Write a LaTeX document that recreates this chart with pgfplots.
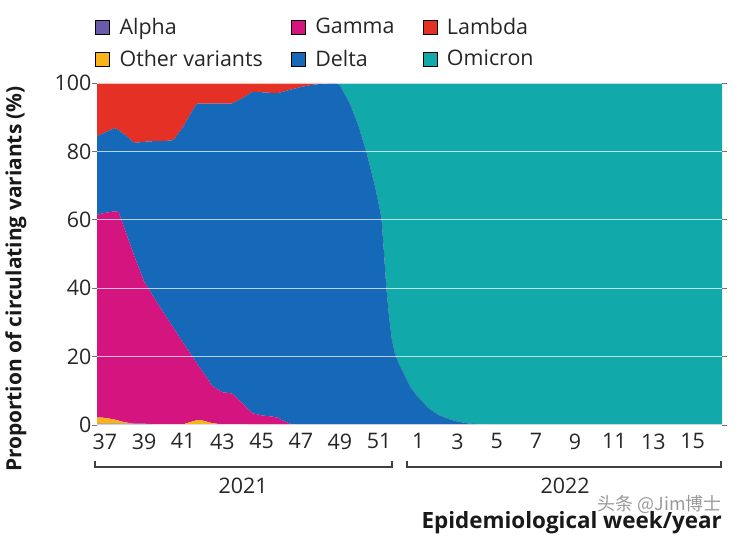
\documentclass[border=0pt]{standalone}
\usepackage{pgfplots}
\pgfplotsset{compat=1.18}
\usepackage{pgfplotstable}
\usepackage{fontspec}
\setmainfont{Open Sans}
\newfontfamily\cjk{Noto Sans CJK SC}
\definecolor{alphaC}{HTML}{6A5BAA}
\definecolor{gammaC}{HTML}{D5157F}
\definecolor{lambdaC}{HTML}{E53026}
\definecolor{otherC}{HTML}{F8B418}
\definecolor{deltaC}{HTML}{1569B8}
\definecolor{omicronC}{HTML}{12A9AA}
\pgfplotsset{sqlegend/.style={legend image code/.code={\fill[##1] (0bp,-7bp) rectangle (14bp,7bp); \path (22bp,0bp);}}}
\pgfplotstableread{
x     A    O    Gm    Dl    Lb    Om
-0.4  0.4  1.8  59.3  23.0  15.5  0
0     0.4  1.7  59.9  23.5  14.5  0
0.5   0.4  1.2  60.9  24.3  13.2  0
0.7   0.4  0.9  61.0  23.9  13.8  0
1     0.4  0.4  56.7  27.5  15.0  0
1.5   0.4  0    49.1  33.0  17.5  0
2     0.4  0    41.6  40.8  17.2  0
2.5   0.2  0    37.1  45.7  17.0  0
3     0.2  0    32.6  50.2  17.0  0
3.5   0.2  0    28.2  54.9  16.7  0
4     0.2  0    23.8  63.2  12.8  0
4.5   0.2  0.9  18.6  72.5  7.8   0
4.7   0.2  1.2  16.6  76.0  6.0   0
5     0.2  1.1  14.2  78.5  6.0   0
5.5   0.2  0.3  10.8  82.7  6.0   0
6     0.2  0    9.4   84.4  6.0   0
6.5   0.2  0    9.0   84.8  6.0   0
7     0.2  0    6.3   89.0  4.5   0
7.5   0    0    3.5   93.8  2.7   0
8     0    0    2.8   94.5  2.7   0
8.5   0    0    2.5   94.6  2.9   0
8.8   0    0    2.2   94.8  3.0   0
9     0    0    1.5   95.8  2.7   0
9.5   0    0    0.3   97.8  1.9   0
9.8   0    0    0     98.5  1.5   0
10    0    0    0     98.8  1.2   0
10.5  0    0    0     99.4  0.6   0
11    0    0    0     99.7  0.3   0
11.5  0    0    0     100   0     0
11.8  0    0    0     100   0     0
12    0    0    0     99.3  0     0.7
12.5  0    0    0     94.0  0     6.0
12.93 0    0    0     87.7  0     12.3
13.35 0    0    0     79.8  0     20.2
13.78 0    0    0     70.0  0     30.0
14    0    0    0     64.0  0     36.0
14.12 0    0    0     60.5  0     39.5
14.25 0    0    0     50.0  0     50.0
14.37 0    0    0     40.0  0     60.0
14.5  0    0    0     32.0  0     68.0
14.65 0    0    0     25.0  0     75.0
14.8  0    0    0     21.0  0     79.0
15    0    0    0     18.0  0     82.0
15.3  0    0    0     14.5  0     85.5
15.6  0    0    0     11.0  0     89.0
16    0    0    0     8.0   0     92.0
16.5  0    0    0     5.0   0     95.0
17    0    0    0     3.0   0     97.0
17.5  0    0    0     1.8   0     98.2
18    0    0    0     1.0   0     99.0
18.5  0    0    0     0.5   0     99.5
19    0    0    0     0.2   0     99.8
20    0    0    0     0     0     100
31.5  0    0    0     0     0     100
}\data
\begin{document}
\begin{tikzpicture}
\useasboundingbox (0,0) rectangle (750bp,537bp);
\begin{axis}[
  at={(97bp,112bp)}, anchor=south west,
  scale only axis, width=625bp, height=342bp,
  xmin=-0.4, xmax=31.5, ymin=0, ymax=100,
  stack plots=y,
  axis on top,
  axis line style={draw=none},
  xtick={0,2,...,30},
  xticklabels={37,39,41,43,45,47,49,51,1,3,5,7,9,11,13,15},
  x tick style={draw=none},
  ytick={0,20,...,100},
  ymajorgrids,
  grid style={white, opacity=0.7, line width=1.2bp},
  y tick style={black!55, line width=0.6bp},
  tick align=outside, major tick length=5bp,
  tick label style={font=\fontsize{21.5}{25}\selectfont, text=black!85},
  /pgf/number format/assume math mode=true,
  yticklabel style={xshift=3bp},
  xticklabel style={yshift=0bp},
  legend columns=3,
  legend cell align=left,
  legend entries={Alpha,Gamma,Lambda,Other variants,Delta,Omicron},
  legend style={at={(-0.008,1.202)}, anchor=north west, draw=none, fill=none,
    font=\fontsize{21.5}{25}\selectfont, text=black!85,
    /tikz/every even column/.append style={column sep=26bp},
    row sep=10bp},
]
\addlegendimage{sqlegend, fill=alphaC}
\addlegendimage{sqlegend, fill=gammaC}
\addlegendimage{sqlegend, fill=lambdaC}
\addlegendimage{sqlegend, fill=otherC}
\addlegendimage{sqlegend, fill=deltaC}
\addlegendimage{sqlegend, fill=omicronC}
\addplot[fill=alphaC, draw=none] table[x=x,y=A]{\data} \closedcycle;
\addplot[fill=otherC, draw=none] table[x=x,y=O]{\data} \closedcycle;
\addplot[fill=gammaC, draw=none] table[x=x,y=Gm]{\data} \closedcycle;
\addplot[fill=deltaC, draw=none] table[x=x,y=Dl]{\data} \closedcycle;
\addplot[fill=lambdaC, draw=none] table[x=x,y=Lb]{\data} \closedcycle;
\addplot[fill=omicronC, draw=none] table[x=x,y=Om]{\data} \closedcycle;
\draw[white, opacity=0.8, line width=1bp, dash pattern=on 4bp off 3bp] (axis cs:14.35,0) -- (axis cs:14.35,100);
\end{axis}
\draw[black!75, line width=1.2bp] (95bp,76bp) -- (95bp,70bp) -- (392bp,70bp) -- (392bp,76bp);
\draw[black!75, line width=1.2bp] (407bp,76bp) -- (407bp,70bp) -- (721bp,70bp) -- (721bp,76bp);
\node[font=\fontsize{21.5}{25}\selectfont, text=black!85] at (243bp,51bp) {2021};
\node[font=\fontsize{21.5}{25}\selectfont, text=black!85] at (565bp,51bp) {2022};
\node[font=\fontsize{22.5}{26}\selectfont\bfseries, text=black!90, anchor=east, inner sep=0pt] at (722bp,14bp) {Epidemiological week/year};
\node[font=\fontsize{21}{25}\selectfont\bfseries, text=black!90, rotate=90] at (16bp,258bp) {Proportion of circulating variants (\%)};
\node[font=\cjk\fontsize{18}{21}\selectfont, text=black!40, anchor=east, inner sep=0pt] at (722bp,32bp) {头条 @Jim博士};
\end{tikzpicture}
\end{document}
